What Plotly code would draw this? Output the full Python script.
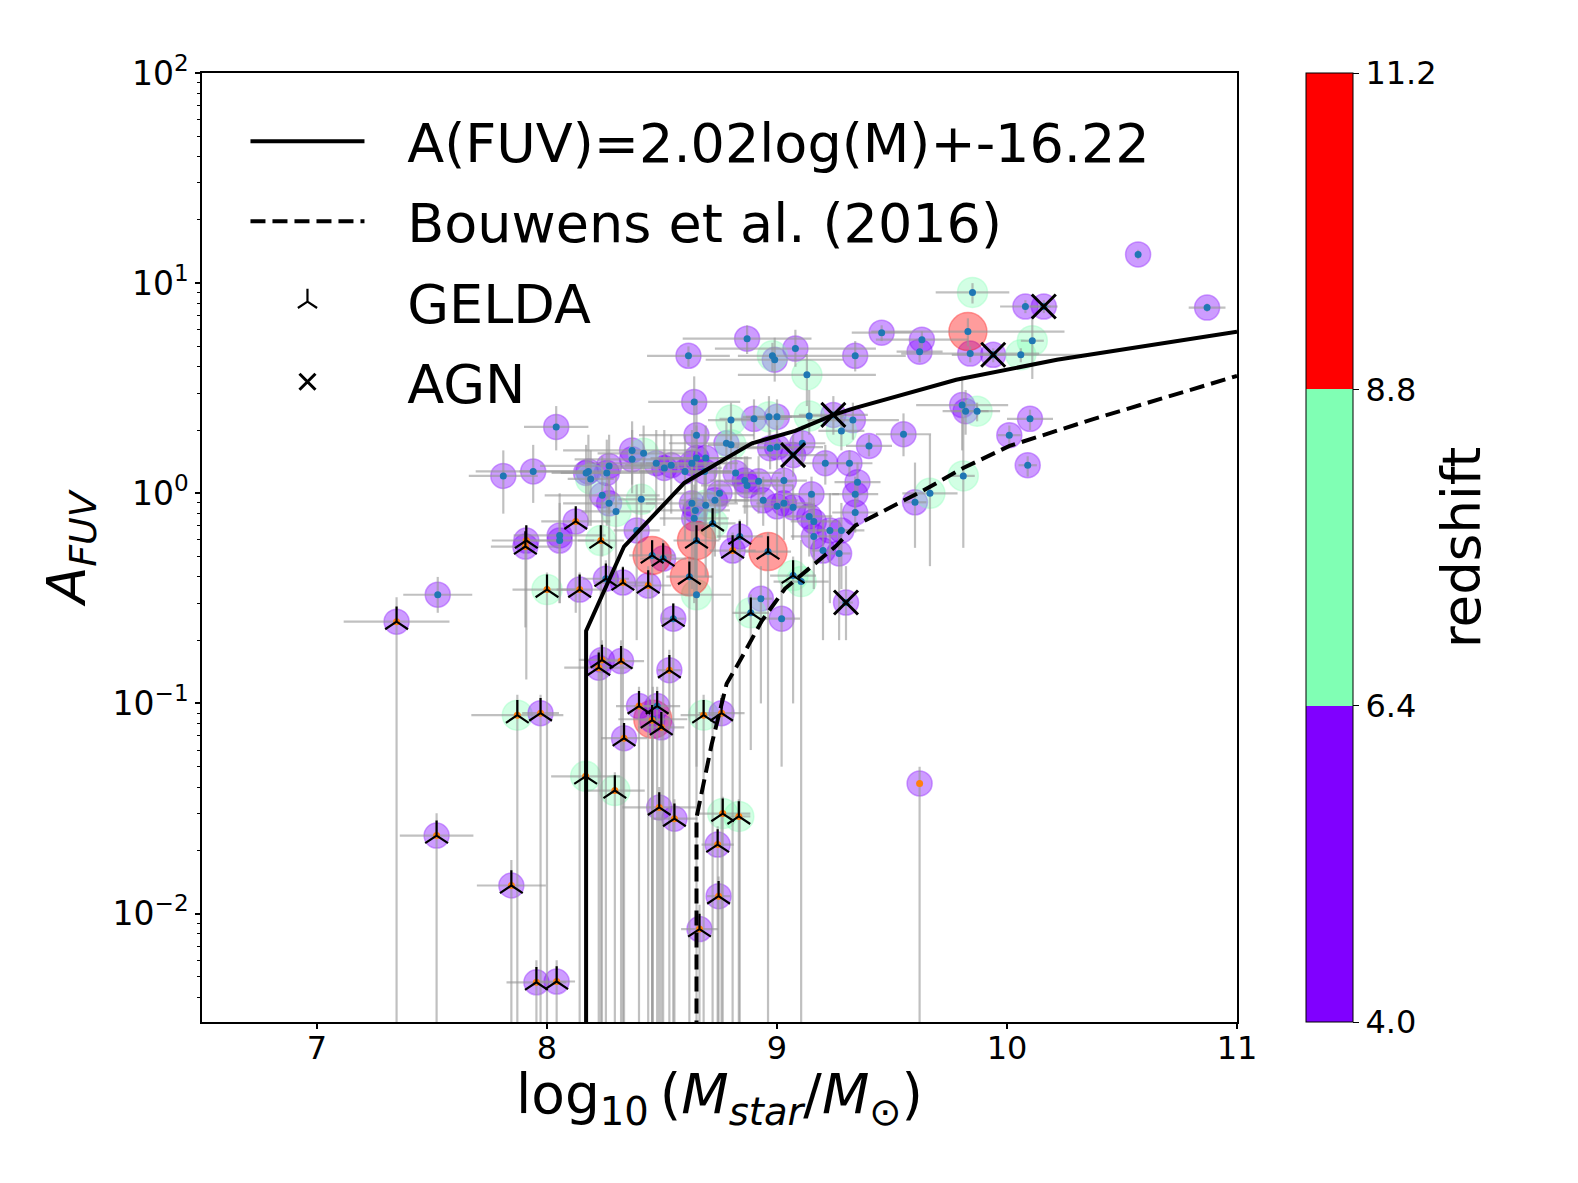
import plotly.graph_objects as go

# ---------------- data ----------------
# stellar mass log10(M*/Msun)
mass = [
    10.57, 10.08, 10.16, 10.87, 9.455, 9.63, 9.62, 9.84, 9.94, 9.34,
    9.805, 9.82, 10.10, 9.55, 10.01, 9.40, 10.09, 9.60, 9.35, 9.34,
    9.34, 8.87, 8.99, 9.08, 8.615, 8.64, 8.65, 8.90, 9.00, 9.245,
    9.33, 8.78, 9.00, 9.07, 9.11, 9.21, 9.315, 9.03, 8.94, 9.15,
    9.03, 9.07, 9.14, 9.16, 9.23, 9.28, 9.16, 9.20, 9.27, 8.82,
    8.86, 8.92, 8.97, 8.75, 8.73, 8.37, 8.37, 8.18, 8.27, 8.26,
    8.475, 8.51, 8.54, 8.60, 8.65, 8.69, 8.63, 8.685, 8.87, 8.24,
    8.27, 8.63, 9.00, 8.39, 8.04, 7.81, 7.94, 8.17, 8.055, 8.055,
    8.645, 8.64, 7.525, 8.93, 9.02, 9.30, 9.62,
    # z 6.4-8.8, no GELDA
    9.85, 10.11, 10.06, 9.87, 9.81, 9.665, 8.98, 9.13, 8.80, 8.965,
    9.14, 9.28, 8.80, 8.42, 8.19, 8.30, 8.41, 8.69, 8.65, 9.105,
    # z > 8.8, no GELDA
    9.83, 8.46,
    # GELDA
    7.346, 7.52, 7.845, 7.954, 8.042, 7.906, 7.91, 8.00, 8.142, 8.125,
    8.234, 8.256, 8.33, 8.44, 8.505, 8.549, 8.239, 8.225, 8.322, 8.532,
    7.871, 7.972, 8.40, 8.479, 8.497, 8.457, 8.335, 8.681, 8.759, 8.168,
    8.295, 8.488, 8.554, 8.764, 8.834, 8.742, 8.746, 8.663, 8.72, 8.838,
    8.807, 9.07, 8.886, 8.619, 8.65, 8.457, 8.961,
]
# FUV attenuation A_FUV (mag)
afuv = [
    13.7, 7.74, 7.74, 7.65, 5.81, 5.38, 4.72, 4.62, 4.56, 4.51,
    2.63, 2.46, 2.26, 1.91, 1.89, 1.68, 1.36, 0.906, 1.13, 0.99,
    0.81, 5.44, 4.32, 4.88, 4.51, 2.72, 1.89, 2.26, 2.31, 2.36,
    2.23, 1.73, 1.66, 1.52, 1.73, 1.39, 1.39, 1.15, 0.926, 0.99,
    0.896, 0.857, 0.776, 0.735, 0.666, 0.666, 0.623, 0.534, 0.517, 1.25,
    1.15, 1.14, 1.64, 1.0, 0.926, 1.60, 1.45, 1.27, 1.35, 1.25,
    1.39, 1.32, 1.36, 1.27, 1.47, 1.47, 1.39, 1.27, 1.09, 0.978,
    0.896, 0.896, 0.867, 0.666, 2.07, 1.21, 1.27, 1.25, 0.630, 0.596,
    0.829, 0.760, 0.329, 0.315, 0.253, 0.302, 0.0416,
    9.03, 5.32, 4.56, 2.46, 1.21, 1.0, 4.51, 3.66, 2.23, 2.31,
    2.33, 1.98, 1.70, 1.55, 1.17, 0.82, 0.936, 0.876, 0.329, 0.38,
    5.88, 0.0841,
    0.245, 0.0235, 0.0136, 0.00471, 0.00475, 0.558, 0.596, 0.348, 0.348, 0.735,
    0.596, 0.392, 0.376, 0.364, 0.489, 0.253, 0.161, 0.148, 0.159, 0.144,
    0.0879, 0.0899, 0.0971, 0.0971, 0.077, 0.0832, 0.0683, 0.0879, 0.0899, 0.045,
    0.0385, 0.032, 0.0283, 0.0299, 0.029, 0.0213, 0.0121, 0.00844, 0.719, 0.623,
    0.534, 0.406, 0.270, 0.401, 0.596, 0.506, 0.528,
]
# redshift bin: L = 4.0-6.4, M = 6.4-8.8, H = 8.8-11.2
zbin = (
    ["L"] * 87
    + ["M"] * 20
    + ["H"] * 2
    + ["L", "L", "L", "L", "L", "L", "L", "M", "L", "L",
       "M", "L", "L", "L", "L", "L", "L", "L", "L", "L",
       "M", "L", "L", "L", "L", "L", "L", "M", "L", "M",
       "M", "L", "L", "M", "M", "L", "L", "L", "M", "L",
       "L", "M", "M", "H", "H", "H", "H"]
)
# mass error (dex)
mass_err = [
    0.0, 0.11, 0.06, 0.08, 0.13, 0.2, 0.1, 0.3, 0.05, 0.22,
    0.2, 0.1, 0.1, 0.12, 0.05, 0.1, 0.04, 0.05, 0.1, 0.1,
    0.1, 0.28, 0.3, 0.35, 0.18, 0.2, 0.25, 0.15, 0.15, 0.15,
    0.2, 0.25, 0.2, 0.15, 0.1, 0.12, 0.1, 0.1, 0.15, 0.12,
    0.12, 0.1, 0.1, 0.1, 0.1, 0.1, 0.1, 0.05, 0.05, 0.2,
    0.15, 0.15, 0.1, 0.2, 0.15, 0.3, 0.25, 0.3, 0.3, 0.2,
    0.3, 0.25, 0.2, 0.2, 0.2, 0.2, 0.2, 0.15, 0.2, 0.25,
    0.2, 0.2, 0.15, 0.1, 0.14, 0.15, 0.25, 0.15, 0.2, 0.15,
    0.15, 0.15, 0.15, 0.05, 0.08, 0.03, 0.0,
    0.16, 0.05, 0.3, 0.1, 0.05, 0.12, 0.15, 0.3, 0.1, 0.1,
    0.15, 0.1, 0.1, 0.2, 0.1, 0.15, 0.1, 0.1, 0.15, 0.12,
    0.42, 0.15,
    0.23, 0.16, 0.15, 0.13, 0.08, 0.15, 0.15, 0.15, 0.1, 0.15,
    0.1, 0.1, 0.12, 0.1, 0.1, 0.05, 0.1, 0.15, 0.1, 0.05,
    0.2, 0.08, 0.1, 0.1, 0.1, 0.05, 0.1, 0.1, 0.1, 0.15,
    0.13, 0.16, 0.1, 0.12, 0.05, 0.07, 0.05, 0.08, 0.1, 0.1,
    0.1, 0.1, 0.08, 0.1, 0.1, 0.1, 0.1,
]
# lower / upper bound of A_FUV (0 = bound reaches zero)
afuv_lo = [
    13.0, 7.2, 7.2, 7.3, 5.3, 4.9, 4.2, 4.2, 4.2, 3.8,
    1.6, 1.9, 2.0, 1.5, 1.7, 1.5, 1.2, 0.55, 0.9, 0.8,
    0.65, 4.6, 3.4, 4.0, 4.0, 1.6, 1.2, 1.8, 1.9, 1.9,
    1.8, 1.3, 1.3, 1.2, 1.4, 1.1, 1.2, 0.9, 0.7, 0.8,
    0.6, 0.6, 0.5, 0.5, 0.3, 0.35, 0.35, 0.2, 0.2, 0.9,
    0.8, 0.8, 1.3, 0.6, 0.5, 1.1, 1.0, 0.7, 0.8, 0.7,
    0.8, 0.7, 0.8, 0.6, 0.9, 0.9, 0.8, 0.7, 0.7, 0.5,
    0.4, 0.35, 0.5, 0.2, 1.6, 0.8, 0.9, 0.8, 0.3, 0.3,
    0.4, 0.3, 0.27, 0.1, 0.05, 0.2, 0,
    8.0, 3.5, 4.2, 2.2, 0.55, 0.45, 3.8, 2.6, 1.8, 1.8,
    1.9, 1.6, 1.3, 1.0, 0.7, 0.35, 0.5, 0.4, 0.05, 0,
    5.0, 0,
    0, 0, 0, 0, 0, 0.23, 0.13, 0, 0, 0.27,
    0, 0, 0, 0, 0, 0, 0, 0, 0, 0,
    0, 0, 0, 0, 0, 0, 0, 0, 0, 0,
    0, 0, 0, 0, 0, 0, 0, 0, 0, 0,
    0, 0.1, 0.06, 0, 0, 0, 0,
]
afuv_hi = [
    14.4, 8.3, 8.3, 8.0, 6.3, 5.9, 5.2, 5.0, 4.9, 5.3,
    3.6, 3.1, 2.5, 2.4, 2.1, 1.9, 1.5, 1.4, 1.4, 1.2,
    1.0, 6.3, 5.5, 6.0, 5.0, 3.6, 2.8, 2.8, 2.8, 2.9,
    2.7, 2.2, 2.1, 1.9, 2.1, 1.7, 1.6, 1.4, 1.2, 1.2,
    1.2, 1.1, 1.0, 1.0, 1.0, 0.9, 0.9, 0.75, 0.75, 1.6,
    1.5, 1.5, 2.0, 1.4, 1.3, 2.2, 2.0, 1.9, 1.9, 1.8,
    2.0, 2.0, 1.9, 1.9, 2.1, 2.1, 2.0, 1.9, 1.5, 1.5,
    1.4, 1.4, 1.2, 1.1, 2.6, 1.6, 1.7, 1.7, 1.0, 0.9,
    1.2, 1.1, 0.4, 0.45, 0.38, 0.45, 0.05,
    10.0, 7.0, 4.9, 2.7, 2.3, 1.9, 5.2, 4.6, 2.7, 2.9,
    3.1, 2.4, 2.2, 2.1, 1.6, 1.2, 1.4, 1.3, 0.6, 0.6,
    6.8, 0.12,
    0.32, 0.03, 0.018, 0.006, 0.006, 0.65, 0.7, 0.42, 0.42, 0.85,
    0.7, 0.48, 0.45, 0.45, 0.6, 0.3, 0.2, 0.18, 0.2, 0.18,
    0.11, 0.11, 0.12, 0.12, 0.09, 0.1, 0.08, 0.11, 0.11, 0.055,
    0.047, 0.04, 0.035, 0.036, 0.035, 0.026, 0.015, 0.011, 0.85, 0.75,
    0.65, 0.5, 0.33, 0.5, 0.7, 0.6, 0.65,
]
n_plain = 109
gelda = [False] * n_plain + [True] * 47
agn_idx = [2, 8, 29, 33, 85]
# colour of the small central dot (matplotlib C0 / C1)
dot_orange_plain = [86]
dot_blue_gelda = [120, 123, 124, 132, 147, 148, 150, 151, 152, 153, 154, 155]

# fitted relation A(FUV)=2.02log(M)-16.22
fit_x = [8.17, 8.17, 8.335, 8.497, 8.597, 8.742, 8.891, 9.079, 9.245, 9.341,
         9.648, 9.779, 10.217, 11.0]
fit_y = [0.0003, 0.221, 0.558, 0.867, 1.12, 1.39, 1.73, 1.98, 2.36, 2.55,
         3.17, 3.47, 4.32, 5.88]
# Bouwens et al. (2016)
b16_x = [8.65, 8.65, 8.716, 8.781, 8.838, 8.934, 9.035, 9.123, 9.254, 9.341,
         9.635, 9.810, 10.011, 10.361, 11.0]
b16_y = [0.0003, 0.0286, 0.0639, 0.124, 0.159, 0.247, 0.352, 0.424, 0.558, 0.703,
         1.03, 1.32, 1.68, 2.23, 3.62]

y_tickvals = [0.01, 0.1, 1, 10, 100]
y_ticktext = ["10<sup>\u22122</sup>", "10<sup>\u22121</sup>", "10<sup>0</sup>",
              "10<sup>1</sup>", "10<sup>2</sup>"]
x_tickvals = [7, 8, 9, 10, 11]
cbar_ticks = [4.0, 6.4, 8.8, 11.2]

# ---------------- styling ----------------
FONT = "DejaVu Sans"
bin_rgb = {"L": (128, 0, 255), "M": (128, 255, 180), "H": (255, 0, 0)}
bin_alpha = {"L": 0.55, "M": 0.5, "H": 0.55}
bin_size = {"L": 25, "M": 30, "H": 38}

fills = [f"rgba({bin_rgb[b][0]},{bin_rgb[b][1]},{bin_rgb[b][2]},{bin_alpha[b]})" for b in zbin]
sizes = [bin_size[b] for b in zbin]

dot_colors = []
for i in range(len(mass)):
    if gelda[i]:
        dot_colors.append("#1f77b4" if i in dot_blue_gelda else "#ff7f0e")
    else:
        dot_colors.append("#ff7f0e" if i in dot_orange_plain else "#1f77b4")

err_plus = [h - a for h, a in zip(afuv_hi, afuv)]
err_minus = [a - max(lo, 1e-7) for a, lo in zip(afuv, afuv_lo)]

fig = go.Figure()

# translucent circles coloured by redshift
fig.add_trace(go.Scatter(
    x=mass, y=afuv, mode="markers", showlegend=False, hoverinfo="skip",
    marker=dict(size=sizes, color=fills, line=dict(color=fills, width=1.5)),
))

# error bars with small central dots
fig.add_trace(go.Scatter(
    x=mass, y=afuv, mode="markers", showlegend=False, hoverinfo="skip",
    marker=dict(size=7, color=dot_colors, line=dict(width=0)),
    error_x=dict(type="data", array=mass_err, color="rgba(150,150,150,0.6)",
                 thickness=2.2, width=0),
    error_y=dict(type="data", symmetric=False, array=err_plus, arrayminus=err_minus,
                 color="rgba(150,150,150,0.6)", thickness=2.2, width=0),
))

PAD = "\u2002\u2009"
fig.add_trace(go.Scatter(
    x=fit_x, y=fit_y, mode="lines", name=PAD + "A(FUV)=2.02log(M)+-16.22",
    line=dict(color="black", width=4), legendgroup="a", hoverinfo="skip",
))
fig.add_trace(go.Scatter(
    x=b16_x, y=b16_y, mode="lines", name=PAD + "Bouwens et al. (2016)",
    line=dict(color="black", width=4, dash="15px,7px"), legendgroup="b", hoverinfo="skip",
))

gx = [m for m, g in zip(mass, gelda) if g]
gy = [a for a, g in zip(afuv, gelda) if g]
fig.add_trace(go.Scatter(
    x=gx, y=gy, mode="markers", name=PAD + "GELDA", legendgroup="c", hoverinfo="skip",
    marker=dict(symbol="y-up", size=19, color="black", line=dict(color="black", width=2.2)),
))
fig.add_trace(go.Scatter(
    x=[mass[i] for i in agn_idx], y=[afuv[i] for i in agn_idx], mode="markers",
    name=PAD + "AGN", legendgroup="d", hoverinfo="skip",
    marker=dict(symbol="x-thin", size=24, color="black", line=dict(color="black", width=3)),
))

# colour bar (discrete redshift bins)
cscale = [[0, "#8000ff"], [1 / 3, "#8000ff"], [1 / 3, "#80ffb4"], [2 / 3, "#80ffb4"],
          [2 / 3, "#ff0000"], [1, "#ff0000"]]
fig.add_trace(go.Scatter(
    x=[None], y=[None], mode="markers", showlegend=False, hoverinfo="skip",
    marker=dict(color=[cbar_ticks[0]], cmin=cbar_ticks[0], cmax=cbar_ticks[-1],
                colorscale=cscale, showscale=True,
                colorbar=dict(
                    x=1.0665, xanchor="left", xpad=0, y=0.5, yanchor="middle", len=1.0,
                    lenmode="fraction", thickness=47, ypad=0,
                    outlinecolor="black", outlinewidth=1,
                    tickmode="array", tickvals=cbar_ticks,
                    ticktext=[f"{v:.1f}" for v in cbar_ticks],
                    ticks="outside", ticklen=6, tickcolor="black",
                    tickfont=dict(family=FONT, size=32, color="black"),
                )),
))

minor_vals = [m * 10 ** d for d in range(-3, 2) for m in range(2, 10)]

fig.update_layout(
    width=1578, height=1183,
    margin=dict(l=194, r=349, t=65, b=169),
    paper_bgcolor="white", plot_bgcolor="white",
    font=dict(family=FONT, color="black"),
    showlegend=True,
    legend=dict(
        x=0.042, y=0.972, xanchor="left", yanchor="top",
        bgcolor="rgba(0,0,0,0)", borderwidth=0,
        font=dict(family=FONT, size=54, color="black"),
        itemwidth=114, tracegroupgap=7, itemsizing="trace",
    ),
    xaxis=dict(
        range=[6.5, 11], tickmode="array", tickvals=x_tickvals,
        ticks="outside", ticklen=5, tickwidth=1.5, tickcolor="black",
        showline=True, linecolor="black", linewidth=1.5, mirror=True,
        showgrid=False, zeroline=False, ticklabelstandoff=-8,
        tickfont=dict(family=FONT, size=32, color="black"),
    ),
    yaxis=dict(
        type="log", range=[-2.516, 2], tickmode="array", tickvals=y_tickvals,
        ticktext=y_ticktext,
        ticks="outside", ticklen=5, tickwidth=1.5, tickcolor="black",
        minor=dict(tickmode="array", tickvals=minor_vals, ticks="outside",
                   ticklen=3, tickwidth=1, tickcolor="black", showgrid=False),
        showline=True, linecolor="black", linewidth=1.5, mirror=True,
        showgrid=False, zeroline=False,
        tickfont=dict(family=FONT, size=33, color="black"),
        title=dict(text="<i>A<sub>FUV</sub></i>",
                   font=dict(family=FONT, size=54, color="black"), standoff=10),
    ),
    annotations=[
        dict(text="log<sub>10</sub>\u2009(<i>M<sub>star</sub></i>/<i>M</i><sub>\u2299</sub>)",
             xref="paper", yref="paper", x=0.5, y=-0.08, xanchor="center", yanchor="middle",
             showarrow=False, font=dict(family=FONT, size=55, color="black")),
        dict(text="redshift", textangle=-90,
             xref="paper", yref="paper", x=1.217, y=0.5, xanchor="center", yanchor="middle",
             showarrow=False, font=dict(family=FONT, size=53, color="black")),
    ],
)

fig.write_html("out.html")
